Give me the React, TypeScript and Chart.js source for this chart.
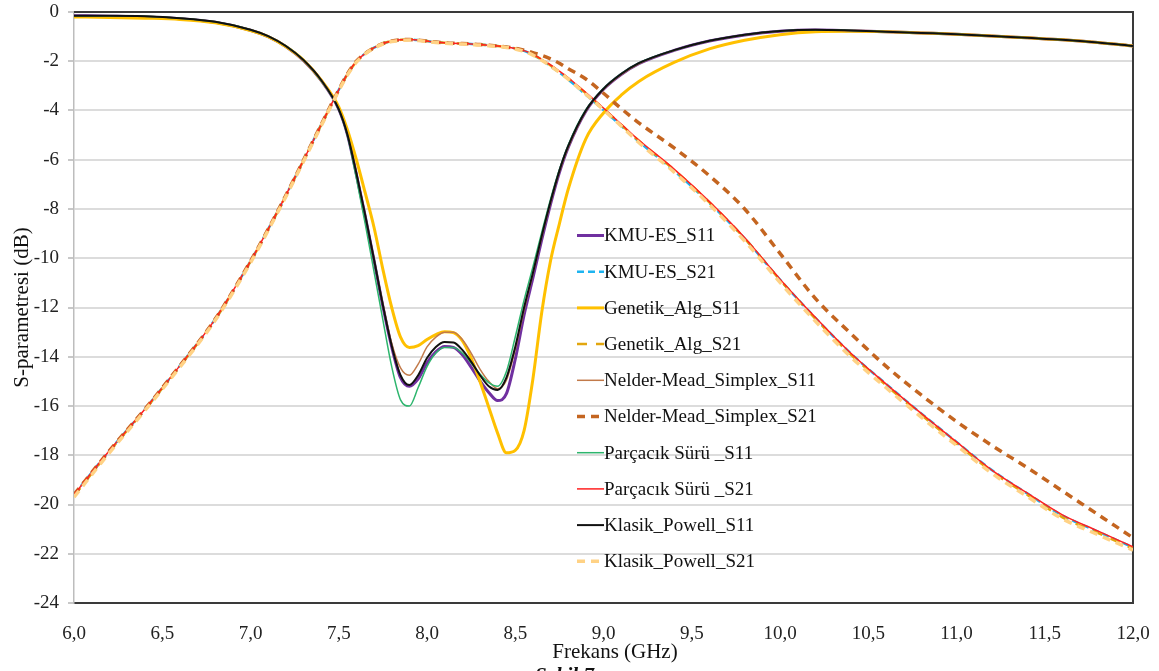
import { useEffect, useRef } from "react";
import { Chart, registerables } from "chart.js";

Chart.register(...registerables);

// Frequency points (GHz)
const freq = [
  6.0, 6.2, 6.4, 6.6, 6.8, 7.0, 7.1, 7.2, 7.3, 7.4, 7.5,
  7.55, 7.6, 7.65, 7.7, 7.75, 7.8, 7.85, 7.9, 7.95, 8.0, 8.05, 8.1, 8.15, 8.2, 8.25,
  8.3, 8.35, 8.4, 8.45, 8.5, 8.55, 8.6, 8.65, 8.7, 8.75, 8.8,
  8.9, 9.0, 9.1, 9.2, 9.4, 9.6, 9.8, 10.0, 10.2, 10.4, 10.6, 10.8, 11.0, 11.2, 11.4, 11.6, 11.8, 12.0,
];

const kmuS11 = [
  -0.15, -0.17, -0.2, -0.27, -0.42, -0.74, -1.0, -1.4, -1.97, -2.78, -3.95,
  -5.0, -6.6, -8.3, -10.1, -11.95, -13.6, -14.85, -15.2, -14.9, -14.25, -13.8, -13.58, -13.62, -13.92, -14.42,
  -14.98, -15.45, -15.78, -15.5, -14.1, -12.3, -10.8, -9.25, -7.8, -6.52, -5.5,
  -4.03, -3.14, -2.54, -2.1, -1.56, -1.18, -0.93, -0.78, -0.73, -0.76, -0.8, -0.85, -0.9, -0.97, -1.05, -1.13, -1.24, -1.38,
];

const kmuS21 = [
  -19.6, -17.82, -16.14, -14.36, -12.47, -10.12, -8.82, -7.45, -6.02, -4.58, -3.16,
  -2.5, -2.0, -1.68, -1.45, -1.28, -1.18, -1.13, -1.12, -1.14, -1.18, -1.22, -1.25, -1.27, -1.28, -1.3,
  -1.32, -1.35, -1.38, -1.42, -1.48, -1.58, -1.74, -1.95, -2.2, -2.46, -2.74,
  -3.36, -3.98, -4.62, -5.26, -6.45, -7.76, -9.2, -10.87, -12.42, -13.86, -15.1, -16.3, -17.46, -18.6, -19.55, -20.45, -21.1, -21.74,
];

const genetikS11 = [
  -0.2, -0.22, -0.25, -0.3, -0.44, -0.75, -1.0, -1.4, -1.95, -2.76, -3.85,
  -4.8, -6.0, -7.35, -8.75, -10.45, -12.0, -13.2, -13.62, -13.55, -13.3, -13.1, -12.98, -13.02, -13.35, -14.05,
  -15.0, -16.05, -17.1, -17.9, -17.8, -17.0, -14.9, -12.2, -10.1, -8.6, -7.2,
  -5.15, -4.1, -3.38, -2.82, -2.05, -1.5, -1.15, -0.92, -0.8, -0.78, -0.8, -0.85, -0.9, -0.97, -1.05, -1.13, -1.24, -1.38,
];

const genetikS21 = [
  -19.65, -17.85, -16.16, -14.38, -12.48, -10.13, -8.83, -7.46, -6.03, -4.59, -3.17,
  -2.52, -2.02, -1.68, -1.45, -1.28, -1.18, -1.13, -1.12, -1.14, -1.18, -1.22, -1.25, -1.27, -1.28, -1.3,
  -1.32, -1.35, -1.38, -1.42, -1.48, -1.57, -1.73, -1.93, -2.17, -2.42, -2.7,
  -3.3, -3.93, -4.58, -5.23, -6.41, -7.73, -9.2, -10.88, -12.45, -13.9, -15.15, -16.36, -17.52, -18.66, -19.6, -20.52, -21.15, -21.8,
];

const nelderS11 = [
  -0.15, -0.15, -0.17, -0.25, -0.4, -0.72, -0.98, -1.38, -1.95, -2.76, -3.95,
  -4.98, -6.55, -8.25, -10.05, -11.85, -13.45, -14.45, -14.75, -14.3, -13.6, -13.2, -13.0, -13.0, -13.3, -13.85,
  -14.5, -15.0, -15.3, -14.95, -13.7, -12.1, -10.65, -9.15, -7.75, -6.5, -5.5,
  -4.03, -3.14, -2.54, -2.1, -1.56, -1.18, -0.93, -0.78, -0.73, -0.76, -0.8, -0.85, -0.9, -0.97, -1.05, -1.13, -1.24, -1.38,
];

const nelderS21 = [
  -19.6, -17.82, -16.14, -14.36, -12.47, -10.12, -8.82, -7.45, -6.02, -4.58, -3.16,
  -2.5, -2.0, -1.68, -1.45, -1.28, -1.18, -1.13, -1.12, -1.14, -1.18, -1.22, -1.25, -1.27, -1.28, -1.3,
  -1.32, -1.35, -1.38, -1.42, -1.47, -1.55, -1.65, -1.76, -1.9, -2.08, -2.3,
  -2.72, -3.3, -3.92, -4.5, -5.52, -6.65, -8.0, -9.8, -11.63, -13.05, -14.38, -15.55, -16.63, -17.6, -18.5, -19.45, -20.4, -21.35,
];

const parcacikS11 = [
  -0.15, -0.15, -0.17, -0.25, -0.4, -0.72, -0.98, -1.38, -1.95, -2.78, -3.97,
  -5.05, -6.75, -8.6, -10.55, -12.5, -14.4, -15.75, -16.0, -15.25, -14.4, -13.85, -13.62, -13.62, -13.85, -14.25,
  -14.7, -15.05, -15.2, -14.6, -13.2, -11.7, -10.35, -8.95, -7.6, -6.4, -5.4,
  -3.97, -3.1, -2.5, -2.07, -1.55, -1.17, -0.92, -0.77, -0.72, -0.75, -0.8, -0.85, -0.9, -0.97, -1.05, -1.13, -1.24, -1.38,
];

const parcacikS21 = [
  -19.6, -17.82, -16.14, -14.36, -12.47, -10.12, -8.82, -7.45, -6.02, -4.58, -3.16,
  -2.5, -2.0, -1.68, -1.45, -1.28, -1.18, -1.13, -1.12, -1.14, -1.18, -1.22, -1.25, -1.27, -1.28, -1.3,
  -1.32, -1.35, -1.38, -1.42, -1.48, -1.57, -1.72, -1.92, -2.15, -2.4, -2.67,
  -3.27, -3.9, -4.55, -5.2, -6.38, -7.7, -9.17, -10.85, -12.4, -13.85, -15.1, -16.3, -17.46, -18.6, -19.53, -20.42, -21.07, -21.72,
];

const powellS11 = [
  -0.15, -0.15, -0.17, -0.25, -0.4, -0.72, -0.98, -1.38, -1.95, -2.76, -3.95,
  -5.0, -6.55, -8.25, -10.05, -11.9, -13.55, -14.75, -15.15, -14.75, -14.05, -13.6, -13.4, -13.42, -13.72, -14.2,
  -14.75, -15.2, -15.35, -14.85, -13.6, -12.0, -10.6, -9.1, -7.7, -6.45, -5.45,
  -4.0, -3.12, -2.52, -2.08, -1.55, -1.17, -0.92, -0.77, -0.72, -0.75, -0.8, -0.85, -0.9, -0.97, -1.05, -1.13, -1.24, -1.38,
];

const powellS21 = [
  -19.7, -17.9, -16.2, -14.42, -12.52, -10.18, -8.87, -7.5, -6.07, -4.63, -3.2,
  -2.55, -2.04, -1.7, -1.47, -1.3, -1.2, -1.15, -1.14, -1.16, -1.2, -1.24, -1.27, -1.29, -1.3, -1.32,
  -1.34, -1.37, -1.4, -1.44, -1.5, -1.6, -1.75, -1.96, -2.2, -2.45, -2.73,
  -3.34, -3.97, -4.63, -5.3, -6.5, -7.82, -9.3, -10.98, -12.55, -14.0, -15.25, -16.45, -17.6, -18.73, -19.67, -20.58, -21.22, -21.85,
];

const seriesLabels = [
  "KMU-ES_S11",
  "KMU-ES_S21",
  "Genetik_Alg_S11",
  "Genetik_Alg_S21",
  "Nelder-Mead_Simplex_S11",
  "Nelder-Mead_Simplex_S21",
  "Parçacık Sürü _S11",
  "Parçacık Sürü _S21",
  "Klasik_Powell_S11",
  "Klasik_Powell_S21",
];

const seriesValues = [
  kmuS11, kmuS21, genetikS11, genetikS21, nelderS11, nelderS21, parcacikS11, parcacikS21, powellS11, powellS21,
];

const yMin = -24;
const yMax = 0;
const yStep = 2;
const xMin = 6;
const xMax = 12;
const xStep = 0.5;

const styles = [
  { color: "#7030A0", width: 3, dash: [] as number[] },
  { color: "#1EB4F0", width: 2.5, dash: [7, 4] },
  { color: "#FFC000", width: 3, dash: [] as number[] },
  { color: "#E2A60E", width: 2.5, dash: [10, 9] },
  { color: "#C27A4A", width: 1.5, dash: [] as number[] },
  { color: "#C46520", width: 3.5, dash: [8, 6] },
  { color: "#2DB56D", width: 1.5, dash: [] as number[] },
  { color: "#FF2020", width: 1.5, dash: [] as number[] },
  { color: "#111111", width: 2, dash: [] as number[] },
  { color: "#FFD285", width: 3.5, dash: [8, 6] },
];

const SERIF = "'Liberation Serif', 'Times New Roman', serif";

export default function App() {
  const ref = useRef<HTMLCanvasElement>(null);

  useEffect(() => {
    const canvas = ref.current;
    if (!canvas) return;

    const datasets = seriesLabels.map((label, i) => ({
      label,
      data: freq.map((f, k) => ({ x: f, y: seriesValues[i][k] })),
      borderColor: styles[i].color,
      backgroundColor: styles[i].color,
      borderWidth: styles[i].width,
      borderDash: styles[i].dash,
      pointRadius: 0,
      fill: false,
      cubicInterpolationMode: "monotone" as const,
      order: seriesLabels.length - i,
    }));

    const framePlugin = {
      id: "frame",
      beforeDatasetsDraw(chart: any) {
        const { ctx, chartArea: a } = chart;
        ctx.save();
        ctx.strokeStyle = "#3a3a3a";
        ctx.lineWidth = 2;
        ctx.beginPath();
        ctx.moveTo(a.left, a.top);
        ctx.lineTo(a.right, a.top);
        ctx.lineTo(a.right, a.bottom);
        ctx.stroke();
        ctx.restore();
      },
      afterDraw(chart: any) {
        const { ctx } = chart;
        // legend
        const lx = 577;
        const ly0 = 235.5;
        const dy = 36.2;
        chart.data.datasets.forEach((ds: any, i: number) => {
          const y = ly0 + i * dy;
          ctx.save();
          ctx.strokeStyle = ds.borderColor;
          ctx.lineWidth = ds.borderWidth;
          ctx.setLineDash(ds.borderDash || []);
          ctx.beginPath();
          ctx.moveTo(lx, y);
          ctx.lineTo(lx + 27, y);
          ctx.stroke();
          ctx.setLineDash([]);
          ctx.fillStyle = "#111";
          ctx.font = `19px ${SERIF}`;
          ctx.textBaseline = "middle";
          ctx.textAlign = "left";
          ctx.fillText(ds.label, lx + 27, y + 1);
          ctx.restore();
        });
        // x axis title
        ctx.save();
        ctx.fillStyle = "#111";
        ctx.font = `21px ${SERIF}`;
        ctx.textAlign = "center";
        ctx.textBaseline = "middle";
        ctx.fillText("Frekans (GHz)", 615, 652);
        ctx.restore();
      },
    };

    const chart = new Chart(canvas, {
      type: "line",
      data: { datasets },
      plugins: [framePlugin],
      options: {
        animation: false,
        responsive: false,
        devicePixelRatio: 1,
        layout: { padding: { top: 12, right: 26, bottom: 0, left: 0 } },
        plugins: {
          legend: { display: false },
          tooltip: { enabled: false },
        },
        scales: {
          x: {
            type: "linear",
            min: xMin,
            max: xMax,
            afterFit: (scale: any) => {
              scale.height = 68;
              scale.paddingLeft = 0;
              scale.paddingRight = 0;
            },
            ticks: {
              stepSize: xStep,
              padding: 12,
              color: "#222",
              font: { family: SERIF, size: 19 },
              maxRotation: 0,
              callback: (v: any) => Number(v).toFixed(1).replace(".", ","),
            },
            grid: { display: false },
            border: { display: true, color: "#3a3a3a", width: 2 },
          },
          y: {
            type: "linear",
            min: yMin,
            max: yMax,
            afterFit: (scale: any) => {
              scale.width = 74;
              scale.paddingTop = 0;
              scale.paddingBottom = 0;
            },
            ticks: {
              stepSize: yStep,
              padding: 9,
              color: "#222",
              font: { family: SERIF, size: 19 },
              callback: (v: any) => String(v),
            },
            grid: {
              color: (c: any) => (c.tick && (c.tick.value === 0 || c.tick.value === -24) ? "rgba(0,0,0,0)" : "#DCDCDC"),
              lineWidth: 2,
              drawTicks: true,
              tickLength: 6,
              tickColor: "#C8C8C8",
            },
            border: { display: true, color: "#BDBDBD", width: 1.5 },
            title: {
              display: true,
              text: "S-parametresi (dB)",
              color: "#111",
              font: { family: SERIF, size: 21 },
              padding: { top: 10, bottom: 0 },
            },
          },
        },
      },
    });

    return () => chart.destroy();
  }, []);

  return (
    <div
      style={{
        position: "fixed",
        left: 0,
        top: 0,
        width: 1159,
        height: 671,
        overflow: "hidden",
        background: "#fff",
      }}
    >
      <canvas ref={ref} width={1159} height={671} style={{ display: "block" }} />
      <div
        style={{
          position: "absolute",
          left: 535,
          top: 665,
          fontFamily: SERIF,
          fontWeight: "bold",
          fontStyle: "italic",
          fontSize: 21,
          lineHeight: "21px",
          color: "#111",
          whiteSpace: "nowrap",
        }}
      >
        Şekil 7.
      </div>
    </div>
  );
}
